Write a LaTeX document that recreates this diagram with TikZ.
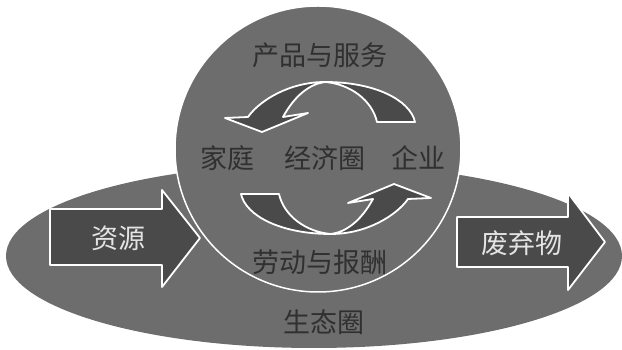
\documentclass[tikz,border=0pt]{standalone}
\usepackage{fontspec}
\newfontfamily\cjk{Noto Sans CJK SC}
\usepackage{tikz}
\usetikzlibrary{positioning}
\definecolor{Ground}{HTML}{6D6D6D}
\definecolor{Shade}{HTML}{4A4A4A}
\definecolor{Ink}{HTML}{303030}
\definecolor{Pale}{HTML}{E4E4E4}

\tikzset{
  rim/.style={white, line width=1.8pt, line join=round, fill=Shade},
  word/.style={font=\cjk\fontsize{27}{30}\selectfont, text=Ink, inner sep=0pt},
  label/.style={font=\cjk\fontsize{27}{30}\selectfont, text=Pale, inner sep=0pt},
  flowarrow/.pic={
    \draw[rim] (-3,76) .. controls (47,76) and (82,58) .. (87,36) -- (49,36)
      .. controls (44,58) and (22,74) .. (-3,76)
      .. controls (-38,76) and (-68,58) .. (-80,41) -- (-103,40) -- (-66,26)
      -- (-20,45) -- (-45,41) .. controls (-33,63) and (-18,74) .. (-3,76) -- cycle;
  }
}

\begin{document}
\begin{tikzpicture}[x=1pt, y=1pt]
  \useasboundingbox (0,0) rectangle (622,350);
  \fill[Ground] (314,94) ellipse [x radius=308, y radius=92];
  \draw[white, line width=1.5pt, fill=Ground] (318,201) circle (143);
  \pic at (328,192) {flowarrow};
  \pic[rotate=180] at (328,192) {flowarrow};
  \draw[rim] (50,141) -- (162,141) -- (162,160) -- (200,112) -- (162,63)
    -- (162,85) -- (50,85) -- cycle;
  \draw[rim] (457,133) -- (568,133) -- (568,157) -- (605,108) -- (568,60)
    -- (568,83) -- (457,83) -- cycle;
  \node[word] (goods) at (320,295) {产品与服务};
  \node[word] (home) at (227,192) {家庭};
  \node[word] (econ) at (325,192) {经济圈};
  \node[word] (firm) at (418,192) {企业};
  \node[word] (labour) at (320,88) {劳动与报酬};
  \node[word] (eco) at (324,28) {生态圈};
  \node[label] (resource) at (118,112) {资源};
  \node[label] (waste) at (522,107) {废弃物};
\end{tikzpicture}
\end{document}
